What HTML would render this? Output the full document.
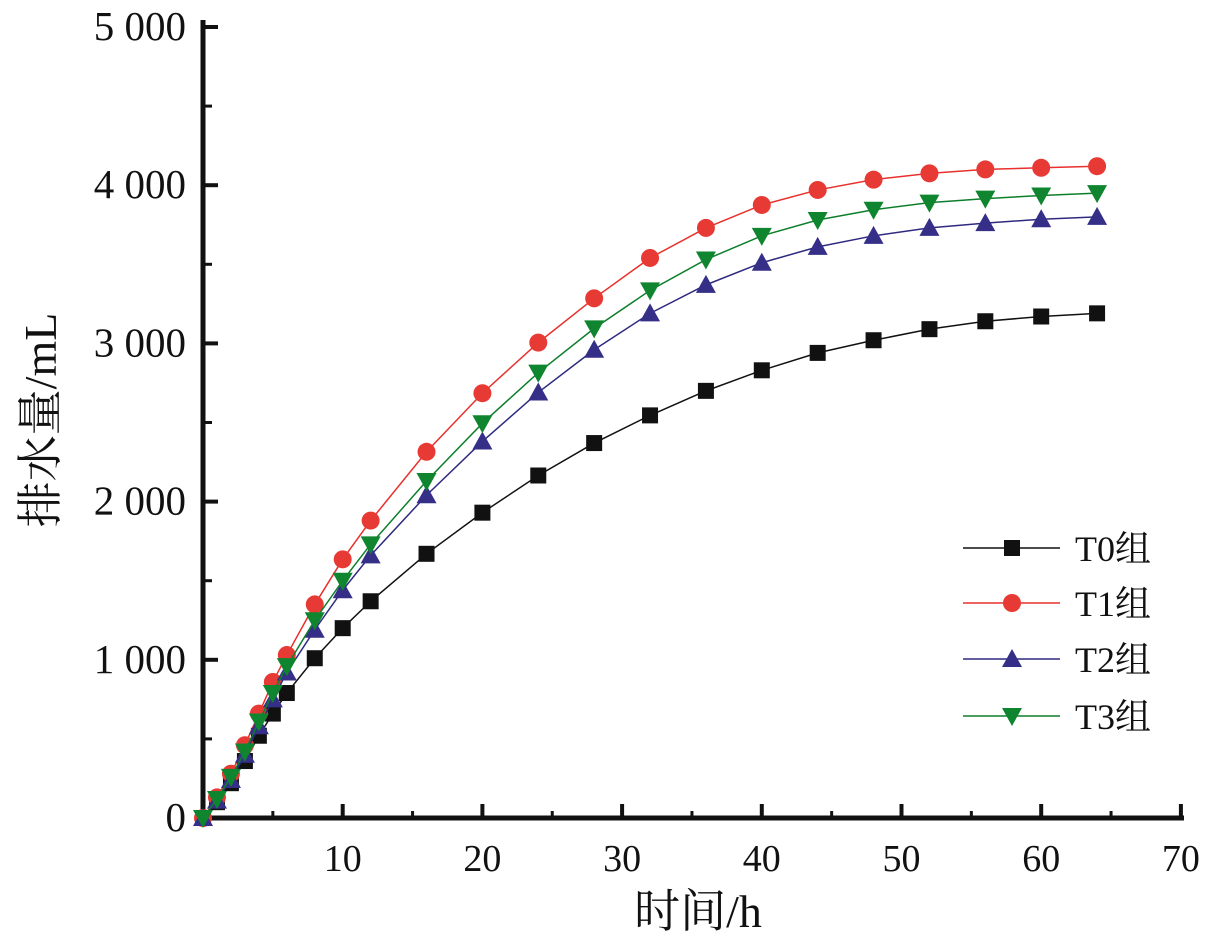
<!DOCTYPE html>
<html><head><meta charset="utf-8"><style>
body{margin:0;background:#fff}
svg text{font-family:"Liberation Serif","Noto Serif CJK SC",serif;fill:#111}
</style></head><body>
<svg width="1215" height="947" id="chart"></svg>
<script>
const xs=[0,1,2,3,4,5,6,8,10,12,16,20,24,28,32,36,40,44,48,52,56,60,64];
const t0=[0,100,220,360,520,660,790,1010,1200,1370,1670,1930,2165,2370,2545,2700,2830,2940,3020,3090,3140,3170,3190];
const t1=[0,130,280,460,660,860,1030,1350,1635,1880,2315,2685,3005,3285,3540,3730,3875,3970,4035,4075,4100,4110,4120];
const t2=[0,110,240,400,580,750,920,1190,1440,1660,2040,2380,2690,2960,3190,3370,3510,3610,3680,3730,3760,3785,3800];
const t3=[0,120,260,420,610,790,960,1250,1500,1730,2130,2495,2815,3095,3335,3530,3680,3780,3845,3890,3915,3935,3950];
const xTicks=[10,20,30,40,50,60,70];
const yTicks=[0,1000,2000,3000,4000,5000];
const yLabels=["0","1 000","2 000","3 000","4 000","5 000"];
const seriesNames=["T0组","T1组","T2组","T3组"];
const NS="http://www.w3.org/2000/svg";
const svg=document.getElementById('chart');
const X=v=>203+v*13.97;
const Y=v=>818-v*0.1582;
function mk(t,a,p){const e=document.createElementNS(NS,t);for(const k in a)e.setAttribute(k,a[k]);(p||svg).appendChild(e);return e;}
let e=mk('line',{x1:203,y1:20,x2:203,y2:820,stroke:'#111','stroke-width':5});

e=mk('line',{x1:201,y1:818,x2:1184,y2:818,stroke:'#111','stroke-width':5});

xTicks.forEach(v=>{const t=mk('line',{x1:X(v),y1:818,x2:X(v),y2:804,stroke:'#111','stroke-width':4});

const l=mk('text',{x:X(v),y:871,'text-anchor':'middle','font-size':38});l.textContent=v;
});
for(let v=5;v<70;v+=10){const t=mk('line',{x1:X(v),y1:818,x2:X(v),y2:811,stroke:'#111','stroke-width':3});
}
yTicks.forEach((v,i)=>{const t=mk('line',{x1:203,y1:Y(v),x2:218,y2:Y(v),stroke:'#111','stroke-width':4});

const l=mk('text',{x:186,y:Y(v)+13,'text-anchor':'end','font-size':41});l.textContent=yLabels[i];
});
for(let v=500;v<5000;v+=1000){const t=mk('line',{x1:203,y1:Y(v),x2:212,y2:Y(v),stroke:'#111','stroke-width':3});
}
e=mk('text',{x:698,y:927,'text-anchor':'middle','font-size':46});e.textContent='时间/h';

e=mk('text',{x:0,y:0,'text-anchor':'middle','font-size':46,transform:'translate(56,420) rotate(-90)'});e.textContent='排水量/mL';

function marker(kind,x,y,col,g){
 if(kind==0)return mk('rect',{x:x-8,y:y-8,width:16,height:16,fill:col},g);
 if(kind==1)return mk('circle',{cx:x,cy:y,r:9,fill:col},g);
 if(kind==2)return mk('polygon',{points:`${x},${y-10} ${x-10},${y+8} ${x+10},${y+8}`,fill:col},g);
 return mk('polygon',{points:`${x},${y+10} ${x-10},${y-8} ${x+10},${y-8}`,fill:col},g);
}
const all=[t0,t1,t2,t3];const cols=['#111','#e8302c','#2e2a7f','#0d7f2c'];
const mcols=['#111','#e83a35','#352f88','#10852f'];
all.forEach((s,k)=>{const g=mk('g',{});
 
 const p=mk('polyline',{points:xs.map((x,i)=>X(x)+','+Y(s[i])).join(' '),fill:'none',stroke:cols[k],'stroke-width':1.5},g);
 
 xs.forEach((x,i)=>{const m=marker(k,X(x),Y(s[i]),mcols[k],g);
 });
});
const ly=[548,603,659,716];
seriesNames.forEach((n,k)=>{const g=mk('g',{});
 
 mk('line',{x1:963,y1:ly[k],x2:1060,y2:ly[k],stroke:cols[k],'stroke-width':1.5},g);
 marker(k,1012,ly[k],mcols[k],g);
 const t=mk('text',{x:1075,y:ly[k]+13,'font-size':36},g);t.textContent=n;});
</script>
</body></html>
